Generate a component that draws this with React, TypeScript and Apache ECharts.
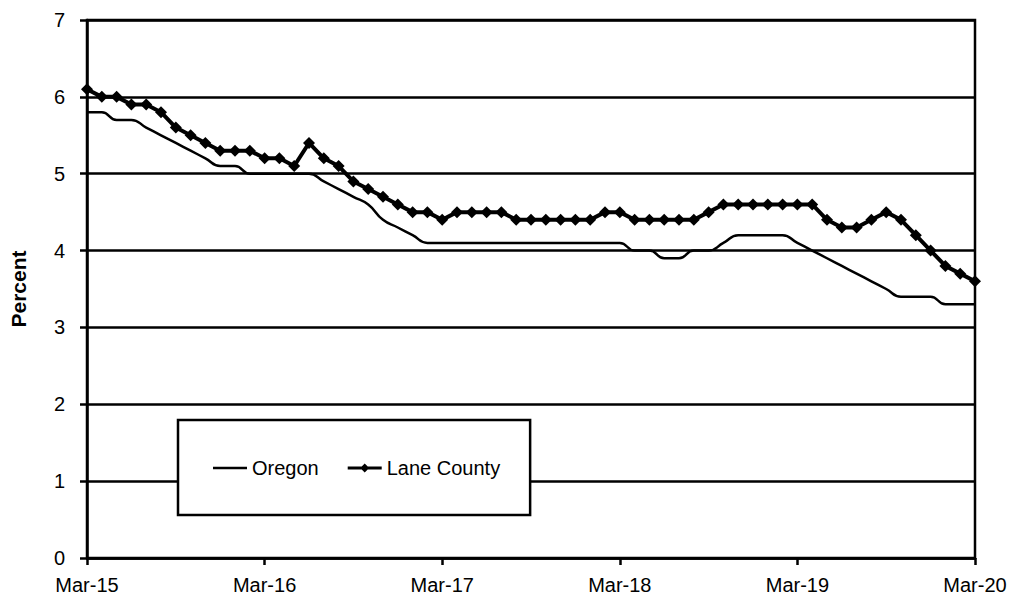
import React, { useEffect, useRef } from "react";
import * as echarts from "echarts";

const months = [
  "Mar-15","Apr-15","May-15","Jun-15","Jul-15","Aug-15","Sep-15","Oct-15","Nov-15","Dec-15","Jan-16","Feb-16",
  "Mar-16","Apr-16","May-16","Jun-16","Jul-16","Aug-16","Sep-16","Oct-16","Nov-16","Dec-16","Jan-17","Feb-17",
  "Mar-17","Apr-17","May-17","Jun-17","Jul-17","Aug-17","Sep-17","Oct-17","Nov-17","Dec-17","Jan-18","Feb-18",
  "Mar-18","Apr-18","May-18","Jun-18","Jul-18","Aug-18","Sep-18","Oct-18","Nov-18","Dec-18","Jan-19","Feb-19",
  "Mar-19","Apr-19","May-19","Jun-19","Jul-19","Aug-19","Sep-19","Oct-19","Nov-19","Dec-19","Jan-20","Feb-20",
  "Mar-20",
];

const oregon = [
  5.8, 5.8, 5.7, 5.7, 5.6, 5.5, 5.4, 5.3, 5.2, 5.1, 5.1, 5.0,
  5.0, 5.0, 5.0, 5.0, 4.9, 4.8, 4.7, 4.6, 4.4, 4.3, 4.2, 4.1,
  4.1, 4.1, 4.1, 4.1, 4.1, 4.1, 4.1, 4.1, 4.1, 4.1, 4.1, 4.1,
  4.1, 4.0, 4.0, 3.9, 3.9, 4.0, 4.0, 4.1, 4.2, 4.2, 4.2, 4.2,
  4.1, 4.0, 3.9, 3.8, 3.7, 3.6, 3.5, 3.4, 3.4, 3.4, 3.3, 3.3,
  3.3,
];

const laneCounty = [
  6.1, 6.0, 6.0, 5.9, 5.9, 5.8, 5.6, 5.5, 5.4, 5.3, 5.3, 5.3,
  5.2, 5.2, 5.1, 5.4, 5.2, 5.1, 4.9, 4.8, 4.7, 4.6, 4.5, 4.5,
  4.4, 4.5, 4.5, 4.5, 4.5, 4.4, 4.4, 4.4, 4.4, 4.4, 4.4, 4.5,
  4.5, 4.4, 4.4, 4.4, 4.4, 4.4, 4.5, 4.6, 4.6, 4.6, 4.6, 4.6,
  4.6, 4.6, 4.4, 4.3, 4.3, 4.4, 4.5, 4.4, 4.2, 4.0, 3.8, 3.7,
  3.6,
];

const FONT = "'Liberation Sans', Arial, sans-serif";

const OREGON_ICON = "path://M0,0 L34,0 L34,2.5 L0,2.5 Z";
const LANE_ICON =
  "path://M0,4.5 L34,4.5 L34,7.5 L0,7.5 Z M17,1.5 L21.5,6 L17,10.5 L12.5,6 Z M0,0 L0.01,0 L0.01,0.01 Z M34,12 L33.99,12 L33.99,11.99 Z";

export default function App() {
  const ref = useRef<HTMLDivElement>(null);
  useEffect(() => {
    if (!ref.current) return;
    const chart = echarts.init(ref.current, null, { renderer: "svg" });
    chart.setOption({
      animation: false,
      backgroundColor: "#ffffff",
      textStyle: { fontFamily: FONT },
      grid: {
        left: 87,
        right: 36,
        top: 20,
        bottom: 37,
        show: true,
        borderColor: "#000",
        borderWidth: 2.5,
      },
      legend: {
        left: 178,
        top: 420,
        orient: "horizontal",
        padding: [38, 30, 37, 35],
        itemGap: 29,
        itemWidth: 34,
        itemHeight: 12,
        backgroundColor: "#fff",
        borderColor: "#000",
        borderWidth: 2.5,
        borderRadius: 0,
        textStyle: { color: "#000", fontSize: 20, fontFamily: FONT },
        data: [
          { name: "Oregon", icon: OREGON_ICON, itemStyle: { color: "#000" } },
          { name: "Lane County", icon: LANE_ICON, itemStyle: { color: "#000" } },
        ],
      },
      xAxis: {
        type: "category",
        data: months,
        boundaryGap: false,
        axisLine: { show: true, lineStyle: { color: "#000", width: 2.5 } },
        axisTick: { show: true, interval: 11, length: 7, lineStyle: { color: "#000", width: 2.5 } },
        axisLabel: {
          interval: 11,
          color: "#000",
          fontSize: 20,
          fontFamily: FONT,
          margin: 17,
        },
        splitLine: { show: false },
      },
      yAxis: {
        type: "value",
        min: 0,
        max: 7,
        interval: 1,
        name: "Percent",
        nameLocation: "middle",
        nameGap: 58,
        nameRotate: 90,
        nameTextStyle: { color: "#000", fontSize: 21, fontWeight: "bold", fontFamily: FONT },
        axisLine: { show: true, lineStyle: { color: "#000", width: 2.5 } },
        axisTick: { show: true, length: 7, lineStyle: { color: "#000", width: 2.5 } },
        axisLabel: { color: "#000", fontSize: 20, fontFamily: FONT, margin: 22 },
        splitLine: { show: true, lineStyle: { color: "#000", width: 2.5 } },
      },
      series: [
        {
          name: "Oregon",
          type: "line",
          data: oregon,
          smooth: 0.5,
          symbol: "none",
          showSymbol: false,
          lineStyle: { color: "#000", width: 2.5 },
          itemStyle: { color: "#000" },
        },
        {
          name: "Lane County",
          type: "line",
          data: laneCounty,
          smooth: false,
          symbol: "diamond",
          symbolSize: 12,
          showSymbol: true,
          showAllSymbol: true,
          lineStyle: { color: "#000", width: 4 },
          itemStyle: { color: "#000" },
        },
      ],
    });
    return () => chart.dispose();
  }, []);
  return (
    <div
      ref={ref}
      style={{ position: "absolute", left: 0, top: 0, width: 1011, height: 595 }}
    />
  );
}
